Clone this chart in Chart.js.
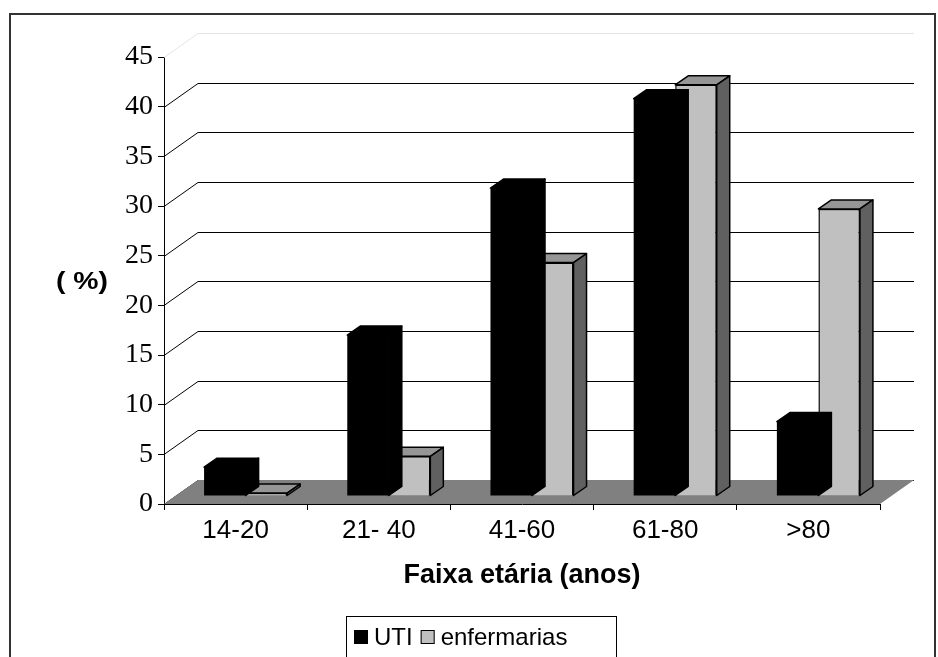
<!DOCTYPE html>
<html lang="pt">
<head>
<meta charset="utf-8">
<title>Faixa etária</title>
<script src="https://cdn.jsdelivr.net/npm/chart.js@4.4.1/dist/chart.umd.min.js"></script>
<style>
    html, body { margin: 0; padding: 0; background: #fff; }
    #wrap { width: 938px; height: 657px; position: relative; }
</style>
</head>
<body>
<div id="wrap"><canvas id="ageChart" width="938" height="657"></canvas></div>
<script>
// Chart data
const categories = ['14-20', '21- 40', '41-60', '61-80', '>80'];
const utiValues = [2.9, 16.2, 31.0, 40.0, 7.5];
const enfermariasValues = [0.3, 4.0, 23.5, 41.4, 28.9];
const seriesNames = ['UTI', 'enfermarias'];
const yMin = 0;
const yMax = 45;
const yStep = 5;

// 3D look
const WALL_DEPTH = { x: 34, y: -24 };
const BAR_SHIFT = { x: 10, y: -8 };
const BAR_DEPTH = { x: 13, y: -9 };
const faceColors = [
    { front: '#000000', top: '#000000', side: '#000000' },
    { front: '#c0c0c0', top: '#969696', side: '#606060' }
];

const sansFont = "'Liberation Sans', Arial, sans-serif";
const serifFont = "'Liberation Serif', 'Times New Roman', serif";

document.addEventListener('DOMContentLoaded', () => {
    initializeChart();
});

// Draw text squeezed/stretched to a given width
function drawWideText(ctx, text, x, y, width) {
    const natural = ctx.measureText(text).width;
    ctx.save();
    ctx.translate(x, y);
    ctx.scale(width / natural, 1);
    ctx.fillText(text, 0, 0);
    ctx.restore();
}

// Walls, gridlines and floor behind the bars
const scenePlugin = {
    id: 'scene3d',
    beforeDatasetsDraw(chart) {
        const { ctx, chartArea, scales } = chart;
        const y = scales.y;
        ctx.save();
        ctx.lineWidth = 1;
        for (let v = yMin; v <= yMax; v += yStep) {
            const py = Math.round(y.getPixelForValue(v)) + 0.5;
            ctx.strokeStyle = v === yMax ? '#e4e4e4' : '#000';
            ctx.beginPath();
            ctx.moveTo(chartArea.left, py);
            ctx.lineTo(chartArea.left + WALL_DEPTH.x, py + WALL_DEPTH.y);
            ctx.lineTo(chartArea.right + WALL_DEPTH.x, py + WALL_DEPTH.y);
            ctx.stroke();
        }

        // floor
        const base = y.getPixelForValue(0);
        ctx.fillStyle = '#808080';
        ctx.beginPath();
        ctx.moveTo(chartArea.left, base);
        ctx.lineTo(chartArea.right, base);
        ctx.lineTo(chartArea.right + WALL_DEPTH.x, base + WALL_DEPTH.y);
        ctx.lineTo(chartArea.left + WALL_DEPTH.x, base + WALL_DEPTH.y);
        ctx.closePath();
        ctx.fill();
        ctx.restore();
    },
    beforeDatasetDraw(chart, args) {
        const { ctx } = chart;
        const colors = faceColors[args.index];
        ctx.save();
        ctx.translate(BAR_SHIFT.x, BAR_SHIFT.y);
        ctx.lineWidth = 1.5;
        ctx.strokeStyle = '#000';
        ctx.lineJoin = 'round';
        args.meta.data.forEach(bar => {
            const l = bar.x - bar.width / 2;
            const r = bar.x + bar.width / 2;
            const t = bar.y;
            const b = bar.base;

            // top face
            ctx.fillStyle = colors.top;
            ctx.beginPath();
            ctx.moveTo(l, t);
            ctx.lineTo(r, t);
            ctx.lineTo(r + BAR_DEPTH.x, t + BAR_DEPTH.y);
            ctx.lineTo(l + BAR_DEPTH.x, t + BAR_DEPTH.y);
            ctx.closePath();
            ctx.fill();
            ctx.stroke();

            // side face
            ctx.fillStyle = colors.side;
            ctx.beginPath();
            ctx.moveTo(r, t);
            ctx.lineTo(r + BAR_DEPTH.x, t + BAR_DEPTH.y);
            ctx.lineTo(r + BAR_DEPTH.x, b + BAR_DEPTH.y);
            ctx.lineTo(r, b);
            ctx.closePath();
            ctx.fill();
            ctx.stroke();
        });
    },
    afterDatasetDraw(chart) {
        chart.ctx.restore();
    }
};

// Frame, y title and legend box
const decorPlugin = {
    id: 'decor',
    afterDraw(chart) {
        const { ctx } = chart;
        ctx.save();

        // outer frame
        ctx.strokeStyle = '#333';
        ctx.lineWidth = 2;
        ctx.strokeRect(10, 14, 925, 700);

        // y axis title
        ctx.fillStyle = '#000';
        ctx.font = `bold 23px ${sansFont}`;
        ctx.textAlign = 'left';
        ctx.textBaseline = 'middle';
        drawWideText(ctx, '( %)', 56, 283, 52);

        // legend
        ctx.lineWidth = 1;
        ctx.strokeStyle = '#000';
        ctx.strokeRect(346.5, 616.5, 270, 60);
        ctx.font = `24px ${sansFont}`;
        let x = 354;
        chart.data.datasets.forEach(ds => {
            ctx.fillStyle = ds.backgroundColor;
            ctx.fillRect(x, 630, 14, 14);
            ctx.strokeRect(x + 0.5, 630.5, 13, 13);
            ctx.fillStyle = '#000';
            ctx.fillText(ds.label, x + 20, 638);
            x += 20 + ctx.measureText(ds.label).width + 8;
        });
        ctx.restore();
    }
};

function initializeChart() {
    const ctx = document.getElementById('ageChart').getContext('2d');
    new Chart(ctx, {
        type: 'bar',
        data: {
            labels: categories,
            datasets: [
                {
                    label: seriesNames[0],
                    data: utiValues,
                    backgroundColor: faceColors[0].front,
                    borderColor: '#000',
                    borderWidth: 0
                },
                {
                    label: seriesNames[1],
                    data: enfermariasValues,
                    backgroundColor: faceColors[1].front,
                    borderColor: '#000',
                    borderWidth: 1.5
                }
            ]
        },
        options: {
            responsive: false,
            animation: false,
            clip: false,
            categoryPercentage: 0.58,
            barPercentage: 1.0,
            layout: {
                padding: { left: 0, right: 58, top: 57, bottom: 0 }
            },
            plugins: {
                legend: { display: false },
                tooltip: { enabled: false }
            },
            scales: {
                x: {
                    grid: {
                        drawOnChartArea: false,
                        offset: true,
                        tickLength: 6,
                        color: '#000'
                    },
                    border: { color: '#000', width: 1 },
                    ticks: {
                        color: '#000',
                        font: { family: sansFont, size: 26 },
                        padding: 5
                    },
                    title: {
                        display: true,
                        text: 'Faixa etária (anos)',
                        color: '#000',
                        font: { family: sansFont, size: 27, weight: 'bold' },
                        padding: { top: 0, bottom: 65 }
                    },
                    afterFit: scale => { scale.height = 153; }
                },
                y: {
                    min: yMin,
                    max: yMax,
                    grid: {
                        drawOnChartArea: false,
                        tickLength: 6,
                        color: '#000'
                    },
                    border: { color: '#000', width: 1 },
                    ticks: {
                        stepSize: yStep,
                        color: '#000',
                        font: { family: serifFont, size: 28 },
                        padding: 5
                    },
                    afterFit: scale => { scale.width = 164; }
                }
            }
        },
        plugins: [scenePlugin, decorPlugin]
    });
}
</script>
</body>
</html>
